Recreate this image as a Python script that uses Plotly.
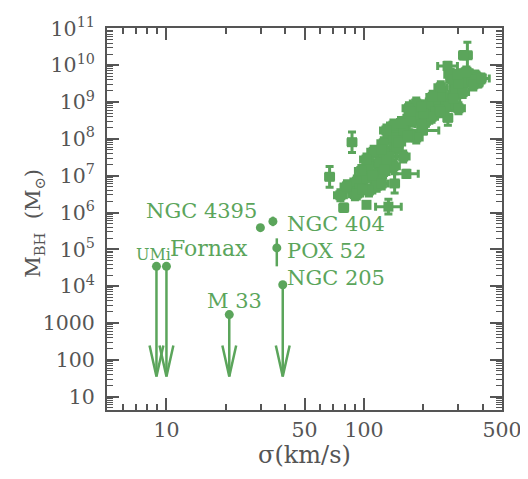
import numpy as np
import plotly.graph_objects as go

# ---- data ----
# Main sample: velocity dispersion (km/s), log10 black-hole mass, errors in dex
sigma = [334, 319, 265, 275, 366, 281, 316, 379, 375, 291,
         316, 251, 231, 213, 269, 301, 259, 184, 266, 231,
         190, 169, 180, 164, 206, 173, 146, 158, 199, 184,
         141, 141, 146, 126, 146, 112, 135, 158, 120, 141,
         106, 164, 116, 100, 92, 116, 143, 87, 67, 76,
         79, 103, 133, 95, 106, 125, 130, 150, 170, 195,
         220, 240, 285, 300, 330, 350, 200, 110, 90, 245,
         327, 358, 296, 393, 245, 223, 195, 245, 173, 154,
         130, 167, 123, 103, 97, 127, 82, 123, 92, 98]
log_mbh = [10.27, 10.27, 9.98, 9.74, 9.72, 9.61, 9.53, 9.53, 9.66, 9.35,
           9.27, 9.22, 9.01, 8.93, 8.93, 8.83, 8.88, 8.96, 8.57, 8.75,
           8.75, 8.83, 8.57, 8.49, 8.49, 8.49, 8.30, 8.23, 8.23, 8.04,
           8.04, 8.36, 7.96, 7.88, 7.78, 7.65, 7.52, 7.52, 7.36, 7.26,
           7.26, 7.05, 6.99, 6.92, 6.84, 6.73, 6.79, 7.91, 6.97, 6.47,
           6.13, 6.21, 6.16, 6.65, 6.60, 7.10, 7.40, 7.90, 8.10, 8.40,
           8.60, 8.80, 9.10, 9.50, 9.80, 9.60, 8.70, 7.00, 6.50, 9.15,
           9.80, 9.48, 9.74, 9.64, 9.40, 9.14, 8.88, 8.75, 8.75, 8.43,
           8.23, 8.09, 7.70, 7.44, 7.13, 7.18, 6.71, 6.79, 6.52, 6.62]
sigma_err_dex = [0.02, 0.02, 0.05, 0.03, 0.02, 0.03, 0.03, 0.02, 0.04, 0.03,
                 0.03, 0.03, 0.03, 0.03, 0.03, 0.03, 0.03, 0.03, 0.02, 0.03,
                 0.03, 0.03, 0.03, 0.03, 0.03, 0.03, 0.03, 0.03, 0.08, 0.03,
                 0.03, 0.03, 0.03, 0.03, 0.03, 0.03, 0.03, 0.03, 0.03, 0.03,
                 0.03, 0.06, 0.03, 0.03, 0.03, 0.03, 0.02, 0.02, 0.02, 0.03,
                 0.02, 0.00, 0.065, 0.05, 0.03, 0.03, 0.03, 0.03, 0.03, 0.03,
                 0.03, 0.03, 0.03, 0.03, 0.03, 0.03, 0.03, 0.03, 0.03, 0.03,
                 0.03, 0.03, 0.03, 0.04, 0.03, 0.03, 0.03, 0.03, 0.03, 0.03,
                 0.03, 0.03, 0.03, 0.03, 0.03, 0.03, 0.03, 0.03, 0.03, 0.06]
mbh_err_dex = [0.35, 0.10, 0.10, 0.15, 0.12, 0.15, 0.15, 0.12, 0.10, 0.15,
               0.15, 0.12, 0.15, 0.15, 0.15, 0.15, 0.12, 0.15, 0.20, 0.15,
               0.15, 0.15, 0.15, 0.15, 0.15, 0.15, 0.15, 0.15, 0.10, 0.15,
               0.15, 0.15, 0.15, 0.15, 0.15, 0.15, 0.15, 0.15, 0.15, 0.15,
               0.15, 0.10, 0.15, 0.15, 0.15, 0.15, 0.26, 0.28, 0.28, 0.15,
               0.10, 0.00, 0.20, 0.10, 0.15, 0.15, 0.15, 0.15, 0.15, 0.15,
               0.15, 0.15, 0.15, 0.15, 0.15, 0.15, 0.15, 0.15, 0.15, 0.15,
               0.12, 0.15, 0.12, 0.12, 0.15, 0.15, 0.15, 0.15, 0.15, 0.15,
               0.15, 0.15, 0.15, 0.15, 0.15, 0.15, 0.15, 0.15, 0.15, 0.10]

# Low-mass objects
low_names = ["NGC 4395", "NGC 404", "POX 52"]
low_sigma = [29.9, 34.6, 36.2]
low_log_mbh = [5.59, 5.76, 5.04]
low_err_plus = [0.05, 0.13, 0.26]
low_err_minus = [0.05, 0.13, 0.50]

# Upper limits (arrows)
lim_names = ["UMi", "Fornax", "M 33", "NGC 205"]
lim_sigma = [8.9, 10.0, 20.8, 38.8]
lim_log_mbh = [4.54, 4.54, 3.23, 4.04]
arrow_tip_log = 1.55

# Tick labels
x_tickvals = [10, 50, 100, 500]
x_ticktext = ["10", "50", "100", "500"]
y_tickvals = [10.0 ** k for k in range(1, 12)]
y_ticktext = ["10", "100", "1000"] + ["10<sup>%d</sup>" % k for k in range(4, 12)]

# ---- styling ----
GREEN = "#5ba55b"
AXIS = "#555555"
FONT = "DejaVu Serif"

fig = go.Figure()

s = np.array(sigma, float)
m = 10.0 ** np.array(log_mbh, float)
se = np.array(sigma_err_dex, float)
me = np.array(mbh_err_dex, float)
fig.add_trace(go.Scatter(
    x=s, y=m, mode="markers",
    marker=dict(symbol="square", size=10, color=GREEN),
    error_x=dict(type="data", symmetric=False, array=s * (10 ** se - 1),
                 arrayminus=s * (1 - 10 ** (-se)), color=GREEN, thickness=3, width=4),
    error_y=dict(type="data", symmetric=False, array=m * (10 ** me - 1),
                 arrayminus=m * (1 - 10 ** (-me)), color=GREEN, thickness=3, width=4),
    showlegend=False, hoverinfo="skip"))

lm = 10.0 ** np.array(low_log_mbh)
fig.add_trace(go.Scatter(
    x=low_sigma, y=lm, mode="markers",
    marker=dict(symbol="circle", size=9, color=GREEN),
    error_y=dict(type="data", symmetric=False,
                 array=lm * (10 ** np.array(low_err_plus) - 1),
                 arrayminus=lm * (1 - 10 ** (-np.array(low_err_minus))),
                 color=GREEN, thickness=2.5, width=0),
    showlegend=False, hoverinfo="skip"))

# arrows for upper limits
tip = 10 ** arrow_tip_log
head_base = 10 ** (arrow_tip_log + 0.84)
hw = 10 ** 0.035
ax, ay = [], []
for sx, ly in zip(lim_sigma, lim_log_mbh):
    ax += [sx, sx, None, sx * hw, sx, sx / hw, None]
    ay += [10 ** ly, tip, None, head_base, tip, head_base, None]
fig.add_trace(go.Scatter(x=ax, y=ay, mode="lines",
                         line=dict(color=GREEN, width=2.5),
                         showlegend=False, hoverinfo="skip"))
fig.add_trace(go.Scatter(
    x=lim_sigma, y=[10 ** v for v in lim_log_mbh], mode="markers",
    marker=dict(symbol="circle", size=9, color=GREEN),
    showlegend=False, hoverinfo="skip"))

# labels
label_pos = {
    "NGC 4395": (1.47, 6.03, "right", 21),
    "NGC 404": (1.60, 5.69, "left", 21),
    "POX 52": (1.60, 4.95, "left", 21),
    "NGC 205": (1.60, 4.22, "left", 21),
    "UMi": (0.835, 4.87, "left", 16),
    "Fornax": (1.01, 5.03, "left", 22),
    "M 33": (1.344, 3.59, "center", 21),
}
for name, (lx, ly, anc, fs) in label_pos.items():
    fig.add_annotation(x=lx, y=ly, xref="x", yref="y", text=name, showarrow=False,
                       xanchor=anc, yanchor="middle",
                       font=dict(family=FONT, size=fs, color=GREEN))

# axis titles
fig.add_annotation(x=0.5, y=-0.119, xref="paper", yref="paper",
                   text="σ(km/s)", showarrow=False, xanchor="center", yanchor="middle",
                   font=dict(family=FONT, size=24, color=AXIS))
fig.add_annotation(x=-0.185, y=0.49, xref="paper", yref="paper",
                   text="M<sub>BH</sub>  (M<sub>⊙</sub>)", showarrow=False, textangle=-90,
                   xanchor="center", yanchor="middle",
                   font=dict(family=FONT, size=21, color=AXIS))

x_minor = [6, 7, 8, 9, 20, 30, 40, 60, 70, 80, 90, 200, 300, 400]
y_minor = [j * 10.0 ** k for k in range(0, 11) for j in range(2, 10)]

fig.update_xaxes(type="log", range=[np.log10(5), np.log10(500)],
                 tickvals=x_tickvals, ticktext=x_ticktext,
                 ticks="inside", ticklen=12, tickwidth=1.5, tickcolor=AXIS,
                 minor=dict(tickvals=x_minor, ticks="inside", ticklen=6, tickwidth=1.5, tickcolor=AXIS),
                 showline=True, linecolor=AXIS, linewidth=2, mirror="allticks",
                 showgrid=False, zeroline=False, ticklabeloverflow="allow",
                 tickfont=dict(family=FONT, size=20.5, color=AXIS))
fig.update_yaxes(type="log", range=[0.64, 11.01],
                 tickvals=y_tickvals, ticktext=y_ticktext,
                 ticks="inside", ticklen=12, tickwidth=1.5, tickcolor=AXIS,
                 minor=dict(tickvals=y_minor, ticks="inside", ticklen=6, tickwidth=1.2, tickcolor=AXIS),
                 showline=True, linecolor=AXIS, linewidth=2, mirror="allticks",
                 showgrid=False, zeroline=False, ticklabelstandoff=6, ticklabeloverflow="allow",
                 tickfont=dict(family=FONT, size=20.5, color=AXIS))

# the page adds an 8 px body margin, so the figure is 8 px smaller and shifted
fig.update_layout(width=520, height=471, margin=dict(l=99, r=21, t=6, b=69),
                  plot_bgcolor="white", paper_bgcolor="white")

fig.write_html("out.html")
